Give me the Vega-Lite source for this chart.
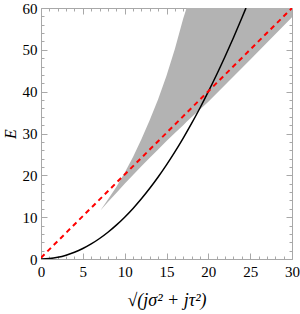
{
  "$schema": "https://vega.github.io/schema/vega-lite/v6.json",
  "width": 251,
  "height": 251,
  "autosize": {"type": "none"},
  "padding": {"left": 41, "top": 8, "right": 8, "bottom": 55},
  "config": {
    "view": {"stroke": "#a8a8a8", "strokeWidth": 1},
    "axis": {
      "domain": false,
      "grid": false,
      "tickColor": "#a8a8a8",
      "labelFont": "Liberation Serif",
      "labelFontSize": 15,
      "labelColor": "#000000",
      "labelOverlap": false,
      "labelFlush": false,
      "titleFont": "Liberation Serif",
      "titleFontWeight": "normal",
      "titleColor": "#000000"
    }
  },
  "datasets": {
    "band": [
      {"x": 7.1, "lo": 11.6, "hi": 11.6},
      {"x": 8, "lo": 13.6, "hi": 14.2},
      {"x": 9, "lo": 15.8, "hi": 17.2},
      {"x": 10, "lo": 18.0, "hi": 20.6},
      {"x": 11, "lo": 20.1, "hi": 24.4},
      {"x": 12, "lo": 22.2, "hi": 28.6},
      {"x": 13, "lo": 24.2, "hi": 33.2},
      {"x": 14, "lo": 26.2, "hi": 38.2},
      {"x": 15, "lo": 28.2, "hi": 43.8},
      {"x": 16, "lo": 30.1, "hi": 50.2},
      {"x": 17, "lo": 32.0, "hi": 57.5},
      {"x": 17.4, "lo": 32.8, "hi": 60},
      {"x": 20, "lo": 37.6, "hi": 60},
      {"x": 25, "lo": 47.6, "hi": 60},
      {"x": 30, "lo": 57.8, "hi": 60}
    ],
    "curve": [
      {"x": 0, "E": 0}, {"x": 1, "E": 0.1}, {"x": 2, "E": 0.4}, {"x": 3, "E": 0.9},
      {"x": 4, "E": 1.6}, {"x": 5, "E": 2.5}, {"x": 6, "E": 3.6}, {"x": 7, "E": 4.9},
      {"x": 8, "E": 6.4}, {"x": 9, "E": 8.1}, {"x": 10, "E": 10}, {"x": 11, "E": 12.1},
      {"x": 12, "E": 14.4}, {"x": 13, "E": 16.9}, {"x": 14, "E": 19.6}, {"x": 15, "E": 22.5},
      {"x": 16, "E": 25.6}, {"x": 17, "E": 28.9}, {"x": 18, "E": 32.4}, {"x": 19, "E": 36.1},
      {"x": 20, "E": 40}, {"x": 21, "E": 44.1}, {"x": 22, "E": 48.4}, {"x": 23, "E": 52.9},
      {"x": 24, "E": 57.6}, {"x": 24.5, "E": 60}
    ],
    "dashed": [
      {"x": 0, "E": 0.3},
      {"x": 30, "E": 60}
    ]
  },
  "layer": [
    {
      "data": {"name": "band"},
      "mark": {"type": "area", "color": "#b3b3b3", "opacity": 1, "clip": true},
      "encoding": {
        "x": {
          "field": "x", "type": "quantitative",
          "scale": {"domain": [0, 30], "nice": false, "zero": false},
          "axis": {
            "orient": "bottom",
            "values": [0,1,2,3,4,5,6,7,8,9,10,11,12,13,14,15,16,17,18,19,20,21,22,23,24,25,26,27,28,29,30],
            "labelExpr": "datum.value % 5 === 0 ? datum.label : ''",
            "tickSize": {"condition": {"test": "datum.value % 5 === 0", "value": -6}, "value": -3},
            "labelPadding": 11,
            "title": "√(jσ² + jτ²)",
            "titleFontSize": 18,
            "titleFontStyle": "italic",
            "titlePadding": 9
          }
        },
        "y": {
          "field": "lo", "type": "quantitative",
          "scale": {"domain": [0, 60], "nice": false, "zero": false},
          "axis": {
            "orient": "left",
            "values": [0,2,4,6,8,10,12,14,16,18,20,22,24,26,28,30,32,34,36,38,40,42,44,46,48,50,52,54,56,58,60],
            "labelExpr": "datum.value % 10 === 0 ? datum.label : ''",
            "tickSize": {"condition": {"test": "datum.value % 10 === 0", "value": -6}, "value": -3},
            "labelPadding": 10,
            "title": "E",
            "titleFontSize": 16,
            "titleFontStyle": "italic",
            "titleAngle": -90,
            "titlePadding": 4
          }
        },
        "y2": {"field": "hi"}
      }
    },
    {
      "data": {"name": "curve"},
      "mark": {"type": "line", "color": "#000000", "strokeWidth": 1.5, "interpolate": "monotone", "clip": true},
      "encoding": {
        "x": {
          "field": "x", "type": "quantitative",
          "axis": {
            "orient": "top",
            "values": [0,1,2,3,4,5,6,7,8,9,10,11,12,13,14,15,16,17,18,19,20,21,22,23,24,25,26,27,28,29,30],
            "labels": false,
            "tickSize": {"condition": {"test": "datum.value % 5 === 0", "value": -6}, "value": -3},
            "title": null
          }
        },
        "y": {
          "field": "E", "type": "quantitative",
          "axis": {
            "orient": "right",
            "values": [0,2,4,6,8,10,12,14,16,18,20,22,24,26,28,30,32,34,36,38,40,42,44,46,48,50,52,54,56,58,60],
            "labels": false,
            "tickSize": {"condition": {"test": "datum.value % 10 === 0", "value": -6}, "value": -3},
            "title": null
          }
        }
      }
    },
    {
      "data": {"name": "dashed"},
      "mark": {"type": "line", "color": "#ff0000", "strokeWidth": 2, "strokeDash": [5, 4], "clip": true},
      "encoding": {
        "x": {"field": "x", "type": "quantitative", "axis": null},
        "y": {"field": "E", "type": "quantitative", "axis": null}
      }
    }
  ],
  "resolve": {"axis": {"x": "independent", "y": "independent"}}
}
